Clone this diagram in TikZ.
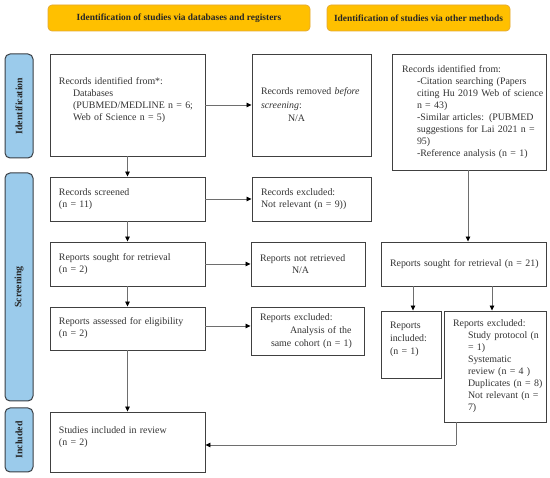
\documentclass[tikz,border=0pt]{standalone}
\usepackage{fontspec}
\setmainfont{Liberation Serif}
\usetikzlibrary{arrows.meta}
\definecolor{bannerf}{HTML}{FFC000}
\definecolor{bannerb}{HTML}{E3A935}
\definecolor{sidef}{HTML}{9BCBEB}
\definecolor{sideb}{HTML}{3A3F44}
\definecolor{boxc}{HTML}{404040}
\definecolor{txt}{HTML}{333333}
\definecolor{arrc}{HTML}{6E6E6E}
\newcommand{\jl}[2]{\makebox[#1][s]{#2}}
\newcommand{\ml}[1]{\mbox{#1}}
\tikzset{
  box/.style={draw=boxc, line width=0.9pt, fill=white, text=txt,
    font=\fontsize{9.9}{12}\selectfont, align=left, inner sep=0pt},
  banner/.style={draw=bannerb, fill=bannerf, rounded corners=4pt, line width=0.7pt,
    font=\bfseries\fontsize{9.4}{11}\selectfont, text=black!85},
  side/.style={draw=sideb, fill=sidef, rounded corners=5pt, line width=1pt,
    font=\bfseries\fontsize{9.8}{11}\selectfont, text=black!85},
  arr/.style={draw=arrc, line width=0.8pt, -{Triangle[length=5pt,width=4.5pt,color=black]}},
  ln/.style={draw=arrc, line width=0.8pt}
}
\begin{document}
\begin{tikzpicture}[x=1pt,y=-1pt]
\useasboundingbox (0,0) rectangle (550,478);
% banners
\node[banner, minimum width=262pt, minimum height=26pt] (bl) at (179,18) {Identification of studies via databases and registers};
\node[banner, minimum width=183pt, minimum height=26pt] (br) at (418.5,18) {Identification of studies via other methods};
% side labels
\node[side, minimum width=104pt, minimum height=28pt, rotate=90] (sid) at (19,106) {Identification};
\node[side, minimum width=228pt, minimum height=28pt, rotate=90] (sscr) at (19,287) {Screening};
\node[side, minimum width=64pt, minimum height=28pt, rotate=90] (sinc) at (19,440) {Included};
% left column
\node[box, minimum width=155pt, minimum height=102pt, text width=137pt] (b1) at (127.5,105) {%
\ml{Records identified from*:}\\
\ml{\hspace*{14pt}Databases}\\
\ml{\hspace*{14pt}\jl{128pt}{(PUBMED/MEDLINE n = 6;}}\\
\ml{\hspace*{14pt}Web of Science n = 5)}\\
\mbox{}};
\node[box, minimum width=119pt, minimum height=102pt, text width=101pt] (rem) at (311.5,105) {%
\ml{\jl{98pt}{Records removed \emph{before}}}\\[1.5pt]
\ml{\emph{screening}:}\\[1.5pt]
\ml{\hspace*{27pt}N/A}};
\node[box, minimum width=155pt, minimum height=44pt, text width=137pt] (scr) at (127.5,199) {%
\ml{Records screened}\\\ml{(n = 11)}};
\node[box, minimum width=119pt, minimum height=44pt, text width=101pt] (exc) at (311.5,199) {%
\ml{Records excluded:}\\\ml{Not relevant (n = 9))}};
\node[box, minimum width=155pt, minimum height=44pt, text width=137pt] (sought) at (127.5,264) {%
\ml{Reports sought for retrieval}\\\ml{(n = 2)}};
\node[box, minimum width=114pt, minimum height=44pt, text width=96pt] (notret) at (308,264) {%
\ml{Reports not retrieved}\\\ml{\hspace*{32pt}N/A}};
\node[box, minimum width=155pt, minimum height=43pt, text width=137pt] (assessed) at (127.5,328.5) {%
\ml{Reports assessed for eligibility}\\\ml{(n = 2)}};
\node[box, minimum width=113pt, minimum height=48pt, text width=95pt] (exc2) at (307.5,331) {%
\ml{Reports excluded:}\\[1pt]
\ml{\hspace*{30pt}\jl{66pt}{Analysis of the}}\\[1pt]
\ml{\hspace*{11pt}same cohort (n = 1)}};
\node[box, minimum width=155pt, minimum height=60pt, text width=137pt] (studies) at (127.5,442) {%
\ml{Studies included in review}\\\ml{(n = 2)}\\\mbox{}};
% right column
\node[box, minimum width=154pt, minimum height=116pt, text width=134pt] (other) at (469,112) {%
\ml{Records identified from:}\\
\ml{\hspace*{15pt}\jl{126pt}{-Citation searching (Papers}}\\
\ml{\hspace*{15pt}\jl{126pt}{citing Hu 2019 Web of science}}\\
\ml{\hspace*{15pt}n = 43)}\\
\ml{\hspace*{15pt}\jl{126pt}{-Similar articles: (PUBMED}}\\
\ml{\hspace*{15pt}\jl{125pt}{suggestions for Lai 2021 n =}}\\
\ml{\hspace*{15pt}95)}\\
\ml{\hspace*{15pt}-Reference analysis (n = 1)}};
\node[box, minimum width=165pt, minimum height=44pt, text width=147pt] (sought2) at (463.5,264) {%
\ml{Reports sought for retrieval (n = 21)}};
\node[box, minimum width=60pt, minimum height=67pt, text width=42pt] (incl2) at (411,344.5) {%
\ml{Reports}\\[1pt]\ml{included:}\\[1pt]\ml{(n = 1)}\\\mbox{}};
\node[box, minimum width=102pt, minimum height=111pt, text width=84pt] (exc3) at (495,366.5) {%
\ml{Reports excluded:}\\
\ml{\hspace*{15pt}Study protocol (n}\\
\ml{\hspace*{15pt}= 1)}\\
\ml{\hspace*{15pt}Systematic}\\
\ml{\hspace*{15pt}review (n = 4 )}\\
\ml{\hspace*{15pt}Duplicates (n = 8)}\\
\ml{\hspace*{15pt}Not relevant (n =}\\
\ml{\hspace*{15pt}7)}};
\coordinate (c1) at (456,445);
% connectors
\draw[arr] (b1) -- (scr);
\draw[arr] (b1) -- (rem);
\draw[arr] (scr) -- (exc);
\draw[arr] (scr) -- (sought);
\draw[arr] (sought) -- (notret);
\draw[arr] (sought) -- (assessed);
\draw[arr] (assessed.east |- 0,326) -- (exc2.west |- 0,326);
\draw[arr] (assessed) -- (studies);
\draw[arr] (other.south -| 468,0) -- (sought2.north -| 468,0);
\draw[arr] (sought2.south -| 413,0) -- (incl2.north -| 413,0);
\draw[arr] (sought2.south -| 492,0) -- (exc3.north -| 492,0);
\draw[ln] (exc3.south -| c1) -- (c1);
\draw[arr] (c1) -- (c1 -| studies.east);
\end{tikzpicture}
\end{document}
